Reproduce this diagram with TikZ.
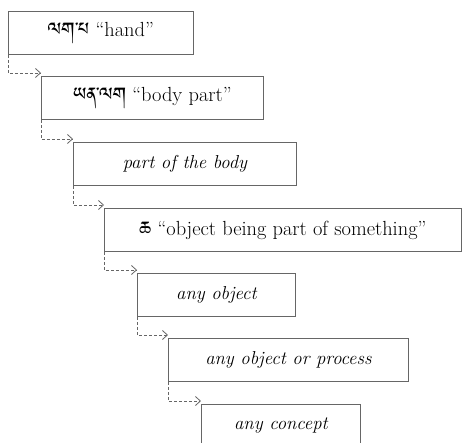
\documentclass[tikz,border=0pt]{standalone}
\usepackage{fontspec}
\usetikzlibrary{arrows.meta,calc}
\IfFontExistsTF{Jomolhari}{\newfontfamily\tib[Script=Tibetan,Scale=1.15]{Jomolhari}}{%
 \IfFontExistsTF{Tibetan Machine Uni}{\newfontfamily\tib[Script=Tibetan,Scale=1.15]{Tibetan Machine Uni}}{%
   \newfontfamily\tib{DejaVu Sans}}}
\newcommand\tibtxt[1]{\raisebox{-4bp}{\tib #1}}
\begin{document}
\begin{tikzpicture}[x=1bp,y=-1bp,
  box/.style={draw=black!60, line width=0.9bp, anchor=north west, inner sep=0pt,
    minimum height=43bp, font=\fontsize{20.5}{24}\selectfont},
  itbox/.style={box, font=\fontsize{18.8}{22}\selectfont\itshape},
  link/.style={draw=black!60, line width=0.8bp, dash pattern=on 3bp off 2bp,
    -{Straight Barb[length=5bp,width=9bp]}}]
\useasboundingbox (0,0) rectangle (463,443);
\node[box, minimum width=185bp] (b1) at (8,11) {\tibtxt{ལག་པ} “hand”};
\node[box, minimum width=222bp] (b2) at (41,76) {\tibtxt{ཡན་ལག} “body part”};
\node[itbox, minimum width=223bp] (b3) at (73,142) {part of the body};
\node[box, minimum width=357bp] (b4) at (104,208) {\tibtxt{ཆ} “object being part of something”};
\node[itbox, minimum width=158bp] (b5) at (137,273) {any object};
\node[itbox, minimum width=240bp] (b6) at (168,338) {any object or process};
\node[itbox, minimum width=159bp] (b7) at (201,404) {any concept};
\draw[link] (b1.south west) |- ($(b2.north west)+(0,-3)$);
\draw[link] (b2.south west) |- ($(b3.north west)+(0,-3)$);
\draw[link] (b3.south west) |- ($(b4.north west)+(0,-3)$);
\draw[link] (b4.south west) |- ($(b5.north west)+(0,-3)$);
\draw[link] (b5.south west) |- ($(b6.north west)+(0,-3)$);
\draw[link] (b6.south west) |- ($(b7.north west)+(0,-3)$);
\end{tikzpicture}
\end{document}
